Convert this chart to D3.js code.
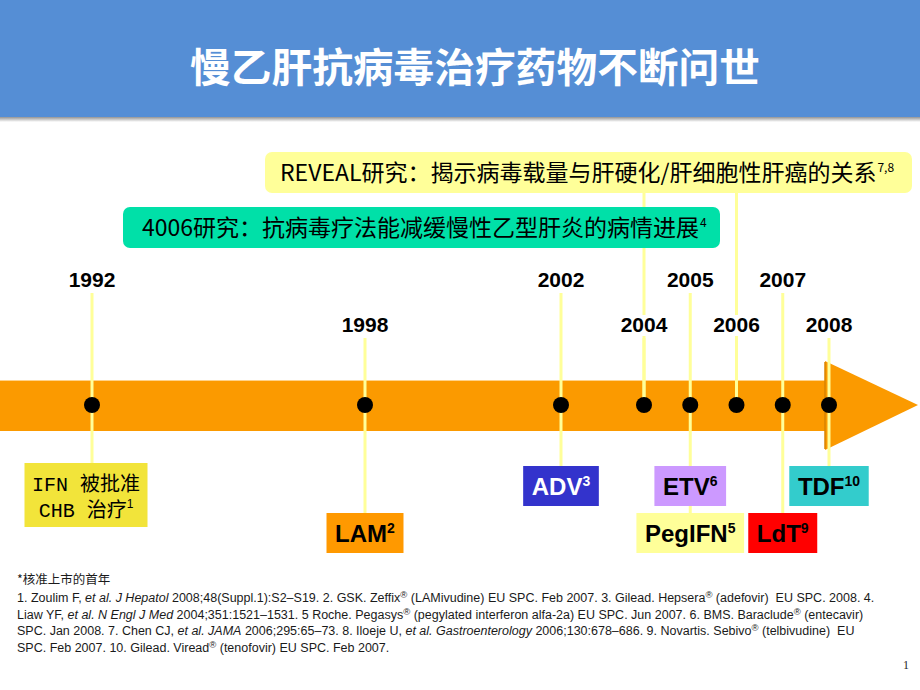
<!DOCTYPE html>
<html><head><meta charset="utf-8">
<script src="https://cdn.jsdelivr.net/npm/d3@7"></script>
<style>body{margin:0;background:#fff}</style>
</head><body><svg id="c" width="920" height="690"></svg>
<script>
// ---------- data ----------
const titleText = "慢乙肝抗病毒治疗药物不断问世";
const years = [1992, 1998, 2002, 2004, 2005, 2006, 2007, 2008];
const yearRow = [0, 1, 0, 1, 0, 1, 0, 1];            // 0 = upper label row, 1 = lower label row
const drugNames = ["IFN 被批准|CHB 治疗", "LAM", "ADV", "ETV", "PegIFN", "LdT", "TDF"];
const drugYears = [1992, 1998, 2002, 2005, 2005, 2007, 2008];
const drugRefs  = ["1", "2", "3", "6", "5", "9", "10"];
const drugRow   = [0, 1, 0, 0, 1, 1, 0];            // 0 = upper box row, 1 = lower box row
const drugFill  = ["#f2e43a", "#ff9900", "#3333cc", "#cc99ff", "#ffff99", "#ff0000", "#33cccc"];
const drugInk   = ["#000", "#000", "#fff", "#000", "#000", "#000", "#000"];
const studyTexts = ["REVEAL研究：揭示病毒载量与肝硬化/肝细胞性肝癌的关系", "4006研究：抗病毒疗法能减缓慢性乙型肝炎的病情进展"];
const studyYears = [2006, 2004];
const studyRefs  = ["7,8", "4"];
const studyFill  = ["#ffff99", "#00e0a8"];
const footHead = "*核准上市的首年";
const footLines = [
  "1. Zoulim F, *et al. J Hepatol* 2008;48(Suppl.1):S2–S19. 2. GSK. Zeffix^®^ (LAMivudine) EU SPC. Feb 2007. 3. Gilead. Hepsera^®^ (adefovir)  EU SPC. 2008. 4.",
  "Liaw YF, *et al. N Engl J Med* 2004;351:1521–1531. 5 Roche. Pegasys^®^ (pegylated interferon alfa-2a) EU SPC. Jun 2007. 6. BMS. Baraclude^®^ (entecavir)",
  "SPC. Jan 2008. 7. Chen CJ, *et al. JAMA* 2006;295:65–73. 8. Iloeje U, *et al. Gastroenterology* 2006;130:678–686. 9. Novartis. Sebivo^®^ (telbivudine)  EU",
  "SPC. Feb 2007. 10. Gilead. Viread^®^ (tenofovir) EU SPC. Feb 2007."
];
const pageNo = "1";

// ---------- drawing ----------
const svg = d3.select("#c");
const CJK = '"Noto Sans CJK SC", sans-serif';
const ARIAL = '"Liberation Sans", Arial, sans-serif';

const x = d3.scaleLinear().domain([1992, 1998, 2002, 2004, 2008]).range([92, 365, 561, 644, 829]);
const axisY = 405;

// title bar
const defs = svg.append("defs");
const sg = defs.append("linearGradient").attr("id", "sh").attr("x1", 0).attr("y1", 0).attr("x2", 0).attr("y2", 1);
sg.append("stop").attr("offset", 0).attr("stop-color", "#7f7f7f");
sg.append("stop").attr("offset", 1).attr("stop-color", "#ffffff");
svg.append("rect").attr("x", 0).attr("y", 116).attr("width", 920).attr("height", 6).attr("fill", "url(#sh)");
svg.append("rect").attr("x", 0).attr("y", 0).attr("width", 920).attr("height", 117).attr("fill", "#558ed5");
svg.append("text").attr("x", 475).attr("y", 82).attr("text-anchor", "middle")
  .attr("font-family", CJK).attr("font-weight", 700).attr("font-size", 40).attr("fill", "#fff")
  .attr("textLength", 570).attr("lengthAdjust", "spacingAndGlyphs")
  .text(titleText);

// arrow
const bandTop = 380, bandBot = 431, headX = x(2008) - 4;
svg.append("rect").attr("x", 0).attr("y", bandTop).attr("width", headX).attr("height", bandBot - bandTop).attr("fill", "#fb9a00");
svg.append("line").attr("x1", 0).attr("x2", headX).attr("y1", bandTop + 0.5).attr("y2", bandTop + 0.5).attr("stroke", "#ffd38a").attr("stroke-width", 1);
svg.append("path").attr("d", `M${headX},361 L918,${axisY} L${headX},450 Z`).attr("fill", "#fb9a00");
svg.append("line").attr("x1", headX).attr("x2", headX).attr("y1", 362).attr("y2", 449).attr("stroke", "#d98300").attr("stroke-width", 1.5);

// connector lines
const lineCol = "#ffff99";
const labelY = [279, 324];
const boxTop = [466, 513];
years.forEach((yr, i) => {
  const idx = drugYears.map((d, j) => d === yr ? j : -1).filter(j => j >= 0);
  let y1 = labelY[yearRow[i]] + 14, y2 = axisY;
  if (idx.length) y2 = d3.max(idx, j => yr === 1992 ? 463 : boxTop[drugRow[j]]);
  svg.append("line").attr("x1", x(yr)).attr("x2", x(yr)).attr("y1", y1).attr("y2", y2)
    .attr("stroke", lineCol).attr("stroke-width", 3);
});
studyYears.forEach((yr) => {
  svg.append("line").attr("x1", x(yr)).attr("x2", x(yr)).attr("y1", 193).attr("y2", axisY)
    .attr("stroke", lineCol).attr("stroke-width", 3);
});

// year labels (white backing)
years.forEach((yr, i) => {
  const g = svg.append("g");
  const t = g.append("text").attr("x", x(yr)).attr("y", labelY[yearRow[i]] + 8)
    .attr("text-anchor", "middle").attr("font-family", ARIAL).attr("font-weight", 700)
    .attr("font-size", 21).attr("fill", "#000").text(yr);
  const b = t.node().getBBox();
  g.insert("rect", "text").attr("x", b.x - 2).attr("y", b.y + 2).attr("width", b.width + 4).attr("height", b.height - 2).attr("fill", "#fff");
});

// dots
svg.selectAll("circle.dot").data(years).join("circle").attr("class", "dot")
  .attr("cx", d => x(d)).attr("cy", axisY).attr("r", 8).attr("fill", "#000");

// study boxes
const studyBox = [{x: 265, y: 152, w: 647, h: 41, tx: 280}, {x: 123, y: 207, w: 597, h: 41, tx: 142}];
studyTexts.forEach((s, i) => {
  const b = studyBox[i];
  svg.append("rect").attr("x", b.x).attr("y", b.y).attr("width", b.w).attr("height", b.h)
    .attr("rx", 7).attr("fill", studyFill[i]);
  const t = svg.append("text").attr("x", b.tx).attr("y", b.y + 29)
    .attr("font-family", CJK).attr("font-size", 23).attr("fill", "#000");
  t.append("tspan").text(s);
  t.append("tspan").attr("font-size", 12).attr("dy", -9).attr("dx", 1).text(studyRefs[i]);
});

// drug boxes
drugNames.forEach((nm, i) => {
  const cx = x(drugYears[i]);
  const g = svg.append("g");
  if (nm.includes("|")) {
    const parts = nm.split("|");
    const w = 123, h = 64, top = 463;
    g.append("rect").attr("x", cx - w / 2 - 6).attr("y", top).attr("width", w).attr("height", h).attr("fill", drugFill[i]);
    parts.forEach((p, k) => {
      const t = g.append("text").attr("x", cx - 6).attr("y", top + 28 + k * 26).attr("text-anchor", "middle")
        .attr("font-family", '"Liberation Mono", "Noto Sans CJK SC", monospace').attr("font-size", 20).attr("fill", drugInk[i]);
      t.append("tspan").text(p);
      if (k === parts.length - 1) t.append("tspan").attr("font-family", ARIAL).attr("font-size", 12).attr("dy", -9).text(drugRefs[i]);
    });
  } else {
    const top = boxTop[drugRow[i]], h = 40;
    const r = g.append("rect").attr("y", top).attr("height", h).attr("fill", drugFill[i]);
    const t = g.append("text").attr("x", cx).attr("y", top + 29).attr("text-anchor", "middle")
      .attr("font-family", ARIAL).attr("font-weight", 700).attr("font-size", 24).attr("fill", drugInk[i]);
    t.append("tspan").text(nm);
    t.append("tspan").attr("font-size", 14).attr("dy", -9).text(drugRefs[i]);
    const bb = t.node().getBBox();
    const w = bb.width + 17;
    r.attr("x", cx - w / 2).attr("width", w);
  }
});

// footnotes
svg.append("text").attr("x", 17).attr("y", 584).attr("font-family", CJK).attr("font-size", 12.5)
  .attr("fill", "#1a1a1a").text(footHead);
footLines.forEach((ln, i) => {
  const t = svg.append("text").attr("x", 17).attr("y", 602 + i * 16.5)
    .attr("font-family", ARIAL).attr("font-size", 12.5).attr("fill", "#1a1a1a").attr("xml:space", "preserve");
  const toks = ln.split(/(\*[^*]+\*|\^[^^]+\^)/).filter(s => s.length);
  let pend = 0;
  toks.forEach(tok => {
    let ts;
    if (tok.startsWith("*")) ts = t.append("tspan").attr("font-style", "italic").text(tok.slice(1, -1));
    else if (tok.startsWith("^")) ts = t.append("tspan").attr("font-size", 9.5).text(tok.slice(1, -1));
    else ts = t.append("tspan").text(tok);
    let dy = pend;
    if (tok.startsWith("^")) { dy += -4; pend = 4; } else pend = 0;
    if (dy) ts.attr("dy", dy);
  });
});
svg.append("text").attr("x", 903).attr("y", 669).attr("font-family", '"Liberation Serif", serif').attr("font-size", 12)
  .attr("fill", "#262626").text(pageNo);
</script></body></html>
